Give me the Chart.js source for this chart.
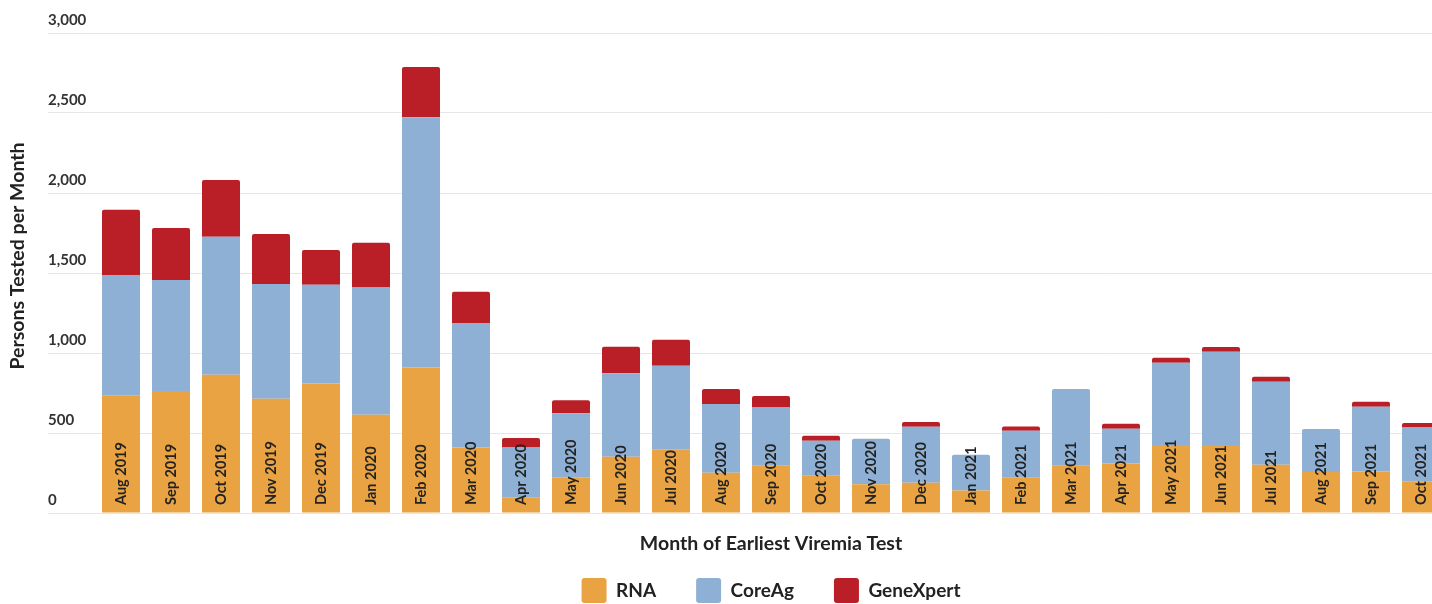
<!DOCTYPE html>
<html>
<head>
<meta charset="utf-8">
<script src="https://cdn.jsdelivr.net/npm/chart.js@4.4.1/dist/chart.umd.min.js"></script>
<style>
    html, body { margin: 0; padding: 0; background: #fff; overflow: hidden; }
    #chartCanvas { display: block; }
</style>
</head>
<body>
<canvas id="chartCanvas" width="1460" height="604"></canvas>
<script>
const months = [
    "Aug 2019", "Sep 2019", "Oct 2019", "Nov 2019", "Dec 2019", "Jan 2020", "Feb 2020",
    "Mar 2020", "Apr 2020", "May 2020", "Jun 2020", "Jul 2020", "Aug 2020", "Sep 2020",
    "Oct 2020", "Nov 2020", "Dec 2020", "Jan 2021", "Feb 2021", "Mar 2021", "Apr 2021",
    "May 2021", "Jun 2021", "Jul 2021", "Aug 2021", "Sep 2021", "Oct 2021"
];
const rnaValues = [
    733, 762, 864, 714, 810, 614, 910,
    410, 98, 223, 352, 398, 252, 296,
    233, 179, 189, 141, 221, 296, 310,
    425, 425, 302, 256, 260, 198
];
const coreAgValues = [
    755, 694, 863, 717, 617, 796, 1563,
    777, 312, 400, 521, 523, 429, 364,
    219, 285, 350, 223, 293, 479, 217,
    514, 583, 519, 269, 404, 337
];
const geneXpertValues = [
    408, 325, 354, 313, 217, 279, 314,
    196, 59, 81, 166, 162, 94, 71,
    31, 0, 30, 0, 27, 0, 31,
    32, 29, 31, 0, 32, 27
];
const yAxisTitle = "Persons Tested per Month";
const xAxisTitle = "Month of Earliest Viremia Test";

const FONT = "Lato, 'Open Sans', sans-serif";
const TEXT = "#222";

// month names sit inside the bars, reading upward from the base
const inBarLabels = {
    id: "inBarLabels",
    afterDatasetsDraw(chart) {
        const ctx = chart.ctx;
        const x = chart.scales.x;
        const y = chart.scales.y;
        const base = y.getPixelForValue(0) - 8;
        ctx.save();
        ctx.font = "bold 14.5px " + FONT;
        ctx.fillStyle = TEXT;
        ctx.textAlign = "left";
        ctx.textBaseline = "middle";
        chart.data.labels.forEach((label, i) => {
            ctx.save();
            ctx.translate(x.getPixelForValue(i), base);
            ctx.rotate(-Math.PI / 2);
            ctx.fillText(label, 0, 0);
            ctx.restore();
        });
        ctx.restore();
    }
};

const yTitle = {
    id: "yTitle",
    afterDraw(chart) {
        const ctx = chart.ctx;
        ctx.save();
        ctx.translate(18, 256);
        ctx.rotate(-Math.PI / 2);
        ctx.font = "bold 19.5px " + FONT;
        ctx.fillStyle = TEXT;
        ctx.textAlign = "center";
        ctx.textBaseline = "middle";
        ctx.fillText(yAxisTitle, 0, 0);
        ctx.restore();
    }
};

// legend padding gives the wide gaps between items; keep its box short
const legendHeight = {
    id: "legendHeight",
    beforeLayout(chart) {
        const legend = chart.legend;
        if (legend && !legend._heightPatched) {
            const fit = legend.fit;
            legend.fit = function () {
                fit.call(this);
                this.height = 66;
            };
            legend._heightPatched = true;
        }
    }
};

new Chart(document.getElementById("chartCanvas"), {
    type: "bar",
    data: {
        labels: months,
        datasets: [
            { label: "RNA", data: rnaValues, backgroundColor: "#E9A342" },
            { label: "CoreAg", data: coreAgValues, backgroundColor: "#8FB0D5" },
            { label: "GeneXpert", data: geneXpertValues, backgroundColor: "#BA1F27" }
        ]
    },
    options: {
        responsive: false,
        animation: false,
        layout: { padding: { top: 33, left: 0, right: 14, bottom: 0 } },
        datasets: {
            bar: {
                barPercentage: 0.76,
                categoryPercentage: 1.0,
                borderWidth: 0,
                borderRadius: 2
            }
        },
        scales: {
            x: {
                stacked: true,
                grid: { display: false, drawTicks: false },
                border: { display: false },
                ticks: { display: false },
                title: {
                    display: true,
                    text: xAxisTitle,
                    color: TEXT,
                    font: { family: FONT, size: 19.5, weight: "bold" },
                    padding: { top: 19.3, bottom: -17.7 }
                }
            },
            y: {
                stacked: true,
                min: 0,
                max: 3000,
                border: { display: false },
                grid: { color: "#e6e6e6", lineWidth: 1, drawTicks: true, tickLength: 48 },
                ticks: {
                    stepSize: 500,
                    mirror: true,
                    padding: -48,
                    labelOffset: -13,
                    color: "#333",
                    font: { family: FONT, size: 15, weight: "bold" },
                    callback: v => v.toLocaleString("en-US")
                },
                afterFit(scale) { scale.width = 96; }
            }
        },
        plugins: {
            tooltip: { enabled: false },
            legend: {
                position: "bottom",
                fullSize: false,
                labels: {
                    boxWidth: 25,
                    boxHeight: 25,
                    padding: 40,
                    useBorderRadius: true,
                    borderRadius: 3,
                    color: TEXT,
                    font: { family: FONT, size: 19, weight: "bold" }
                }
            }
        }
    },
    plugins: [inBarLabels, yTitle, legendHeight]
});
</script>
</body>
</html>
